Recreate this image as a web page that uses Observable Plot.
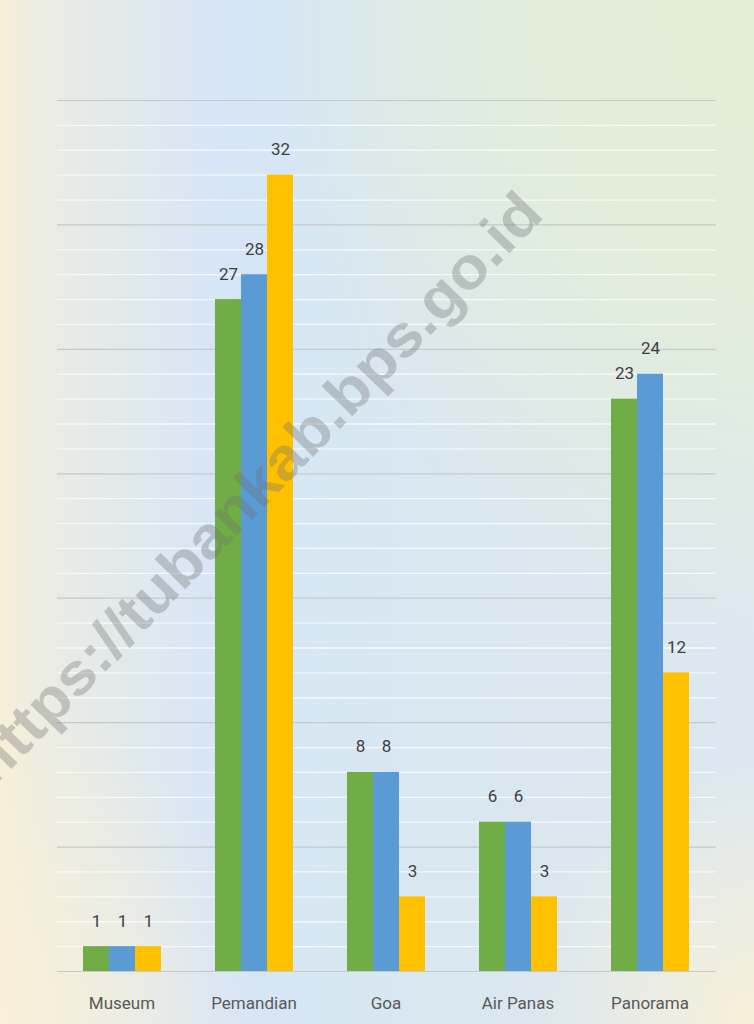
<!DOCTYPE html>
<html>
<head>
<meta charset="utf-8">
<script src="https://cdn.jsdelivr.net/npm/d3@7"></script>
<script src="https://cdn.jsdelivr.net/npm/@observablehq/plot@0.6"></script>
<style>
  body { margin: 0; }
  #wrap {
    position: relative; width: 754px; height: 1024px; overflow: hidden;
    background:
      radial-gradient(ellipse 230px 260px at 100% 100%, rgba(248,240,216,1), rgba(248,240,216,0) 100%),
      radial-gradient(ellipse 260px 330px at 0% 100%, rgba(248,240,216,0.95), rgba(248,240,216,0) 100%),
      radial-gradient(ellipse 480px 640px at 100% 0%, rgba(227,238,216,1) 0%, rgba(227,238,216,0.9) 45%, rgba(227,238,216,0) 100%),
      linear-gradient(90deg, #f8efd6 0%, #eeede0 4%, #e7ebe6 10%, #dfe8ee 19%, #d6e5f7 29%, #d7e7f2 45%, #dae7ef 70%, #dce8ef 100%);
  }
  #wrap > svg, #wrap > figure { position: absolute; left: 0; top: 0; margin: 0; }
</style>
</head>
<body>
<div id="wrap"></div>
<script>
// ---- data ----
const categories = ["Museum", "Pemandian", "Goa", "Air Panas", "Panorama"];
const seriesNames = ["Seri 1", "Seri 2", "Seri 3"];
const seriesGreen = [1, 27, 8, 6, 23];
const seriesBlue = [1, 28, 8, 6, 24];
const seriesYellow = [1, 32, 3, 3, 12];
const seriesColors = ["#70ad47", "#5b9bd5", "#ffc000"];
const minorGrid = [1,2,3,4,6,7,8,9,11,12,13,14,16,17,18,19,21,22,23,24,26,27,28,29,31,32,33,34];
const majorGrid = [0, 5, 10, 15, 20, 25, 30, 35];

const seriesValues = [seriesGreen, seriesBlue, seriesYellow];
const data = [];
categories.forEach((c, i) => {
  seriesNames.forEach((s, j) => data.push({category: c, series: s, value: seriesValues[j][i]}));
});

const W = 754, H = 1024;
const font = "Roboto, 'Liberation Sans', sans-serif";

// background grid layer
const grid = Plot.plot({
  width: W, height: H, marginTop: 100, marginBottom: 53, marginLeft: 57, marginRight: 38,
  style: {background: "transparent"},
  y: {domain: [0, 35], axis: null},
  marks: [
    Plot.ruleY(minorGrid, {stroke: "#ffffff", strokeOpacity: 0.7, strokeWidth: 1.3}),
    Plot.ruleY(majorGrid, {stroke: "#c6c9c9", strokeWidth: 1.2})
  ]
});

// bars layer
const chart = Plot.plot({
  width: W, height: H, marginTop: 100, marginBottom: 53, marginLeft: 56, marginRight: 38,
  style: {background: "transparent", fontFamily: font, fontSize: "17px", color: "#595959"},
  fx: {domain: categories, paddingInner: 0.4, paddingOuter: 0.2, label: null, axis: "bottom", tickSize: 0, tickPadding: 25},
  x: {domain: seriesNames, padding: 0, axis: null},
  y: {domain: [0, 35], axis: null},
  color: {domain: seriesNames, range: seriesColors},
  marks: [
    Plot.barY(data, {fx: "category", x: "series", y: "value", fill: "series"}),
    Plot.text(data, {fx: "category", x: "series", y: "value", text: d => String(d.value),
      lineAnchor: "bottom", dy: -20, fill: "#404040", fontSize: 17, fontFamily: font})
  ]
});

const wrap = document.getElementById("wrap");
wrap.appendChild(grid);
wrap.appendChild(chart);

// watermark
const ns = "http://www.w3.org/2000/svg";
const wm = document.createElementNS(ns, "svg");
wm.setAttribute("width", W); wm.setAttribute("height", H);
wm.style.position = "absolute"; wm.style.left = "0"; wm.style.top = "0";
const t = document.createElementNS(ns, "text");
t.setAttribute("x", 255); t.setAttribute("y", 488);
t.setAttribute("transform", "rotate(-46 255 488)");
t.setAttribute("text-anchor", "middle");
t.setAttribute("dominant-baseline", "central");
t.setAttribute("font-family", "'Liberation Sans', Arial, sans-serif");
t.setAttribute("font-weight", "bold");
t.setAttribute("font-size", 59);
t.setAttribute("textLength", 795);
t.setAttribute("lengthAdjust", "spacingAndGlyphs");
t.setAttribute("fill", "rgba(105,110,110,0.33)");
t.textContent = "https://tubankab.bps.go.id";
wm.appendChild(t);
wrap.appendChild(wm);
</script>
</body>
</html>
